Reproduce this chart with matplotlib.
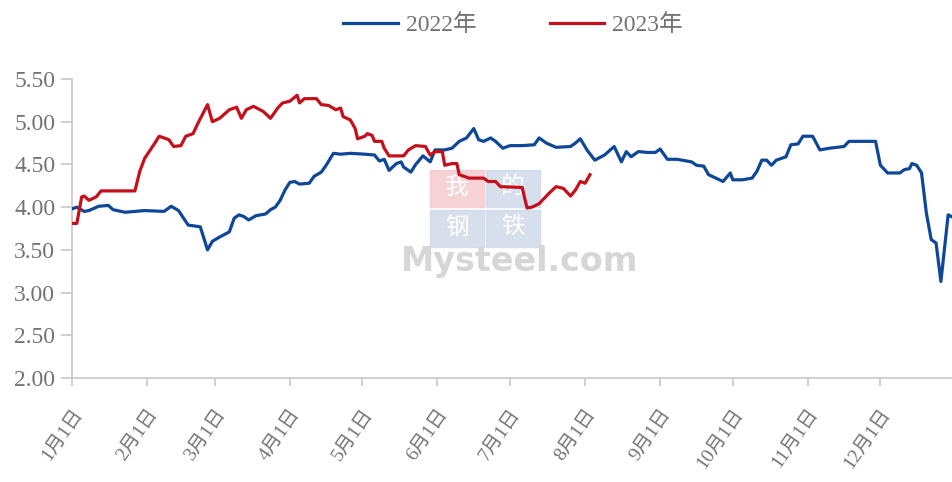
import pandas as pd
import matplotlib.pyplot as plt
import matplotlib.dates as mdates
from matplotlib.patches import Rectangle

# day of year offsets (from Jan 1) and values
days_2022 = [0, 2, 5, 7, 11, 15, 17, 22, 30, 38, 41, 44, 48, 53, 56, 58, 61, 65, 67, 69,
             71, 73, 76, 80, 82, 84, 86, 88, 90, 92, 94, 98, 100, 103, 105, 108, 111, 115,
             121, 125, 127, 129, 131, 134, 136, 137, 140, 142, 145, 148, 150, 154, 157, 160,
             163, 166, 168, 170, 173, 175, 178, 181, 186, 191, 193, 196, 200, 206, 208, 210,
             213, 216, 220, 224, 227, 229, 231, 234, 238, 241, 243, 246, 250, 256, 258, 261,
             263, 266, 269, 272, 273, 277, 281, 283, 285, 287, 289, 291, 295, 297, 300, 302,
             306, 309, 313, 319, 321, 332, 334, 337, 342, 344, 346, 347, 349, 351, 353, 355,
             357, 359, 362, 364]
vals_2022 = [3.98, 4.00, 3.95, 3.96, 4.01, 4.02, 3.97, 3.94, 3.96, 3.95, 4.01, 3.96, 3.79, 3.77,
             3.50, 3.60, 3.65, 3.71, 3.87, 3.91, 3.89, 3.85, 3.90, 3.92, 3.97, 4.00, 4.08, 4.20,
             4.29, 4.30, 4.27, 4.28, 4.36, 4.41, 4.49, 4.63, 4.62, 4.63, 4.62, 4.61, 4.54, 4.56,
             4.43, 4.51, 4.53, 4.47, 4.41, 4.50, 4.60, 4.53, 4.67, 4.67, 4.69, 4.77, 4.81, 4.92,
             4.79, 4.77, 4.81, 4.77, 4.69, 4.72, 4.72, 4.73, 4.81, 4.75, 4.70, 4.71, 4.75, 4.80,
             4.66, 4.55, 4.61, 4.71, 4.53, 4.65, 4.59, 4.65, 4.64, 4.64, 4.68, 4.56, 4.56, 4.53,
             4.49, 4.48, 4.38, 4.34, 4.30, 4.40, 4.32, 4.32, 4.34, 4.42, 4.55, 4.55, 4.49, 4.55,
             4.59, 4.73, 4.74, 4.83, 4.83, 4.67, 4.69, 4.71, 4.77, 4.77, 4.49, 4.40, 4.40, 4.44,
             4.45, 4.51, 4.49, 4.40, 3.93, 3.62, 3.58, 3.13, 3.91, 3.88]

days_2023 = [0, 2, 4, 5, 7, 10, 12, 26, 28, 30, 34, 36, 40, 42, 45, 47, 50, 52, 56, 58, 61,
             65, 68, 70, 72, 75, 79, 82, 85, 87, 90, 93, 94, 96, 101, 103, 106, 109, 111, 112,
             115, 117, 118, 121, 122, 124, 125, 128, 129, 131, 137, 139, 142, 146, 148, 150,
             153, 154, 157, 159, 160, 164, 170, 172, 175, 177, 186, 188, 190, 193, 195, 197,
             200, 203, 206, 208, 210, 212, 214]
vals_2023 = [3.81, 3.81, 4.12, 4.13, 4.08, 4.12, 4.19, 4.19, 4.42, 4.57, 4.74, 4.83, 4.79, 4.71,
             4.72, 4.83, 4.86, 4.98, 5.20, 5.00, 5.04, 5.14, 5.17, 5.04, 5.14, 5.18, 5.12, 5.04,
             5.16, 5.22, 5.24, 5.31, 5.22, 5.27, 5.27, 5.20, 5.19, 5.14, 5.16, 5.06, 5.02, 4.92,
             4.80, 4.83, 4.86, 4.84, 4.77, 4.77, 4.69, 4.60, 4.60, 4.67, 4.72, 4.71, 4.61, 4.65,
             4.65, 4.49, 4.51, 4.51, 4.38, 4.34, 4.34, 4.30, 4.30, 4.24, 4.23, 3.99, 4.00, 4.04,
             4.10, 4.16, 4.24, 4.22, 4.13, 4.20, 4.30, 4.28, 4.38]

series_labels = ['2022年', '2023年']
y_ticks = [2.00, 2.50, 3.00, 3.50, 4.00, 4.50, 5.00, 5.50]

base = pd.Timestamp('2022-01-01')
x22 = base + pd.to_timedelta(days_2022, unit='D')
x23 = base + pd.to_timedelta(days_2023, unit='D')

plt.rcParams['font.family'] = ['Liberation Serif', 'Noto Sans CJK SC', 'DejaVu Sans']

W, H = 953, 482
fig = plt.figure(figsize=(W / 100, H / 100), dpi=100)
ax = fig.add_axes([72 / W, 1 - 378 / H, 1 - 72 / W, (378 - 79) / H])

ax.plot(x22, vals_2022, color='#0f4798', lw=2.3, label=series_labels[0], zorder=3)
ax.plot(x23, vals_2023, color='#c5101c', lw=2.3, label=series_labels[1], zorder=3)

ax.set_ylim(2.0, 5.5)
ax.set_xlim(base, base + pd.Timedelta(days=364))
ax.set_yticks(y_ticks)
ax.set_yticklabels(['%.2f' % v for v in y_ticks])

ax.xaxis.set_major_locator(mdates.MonthLocator())
ax.xaxis.set_major_formatter(plt.FuncFormatter(
    lambda v, p: '%d月1日' % mdates.num2date(v).month))

for s in ['top', 'right']:
    ax.spines[s].set_visible(False)
for s in ['left', 'bottom']:
    ax.spines[s].set_color('#cccccc')
    ax.spines[s].set_linewidth(1.3)

ax.tick_params(axis='y', colors='#cccccc', labelcolor='#737373', labelsize=17,
               length=8, width=1.3, pad=4)
ax.tick_params(axis='x', colors='#cccccc', labelcolor='#737373', labelsize=14,
               length=6, width=1.3, pad=14)
for lab in ax.get_xticklabels():
    lab.set_rotation(55)
    lab.set_ha('right')
    lab.set_va('top')
    lab.set_rotation_mode('anchor')

# watermark
boxes = [(430, 170, '我', '#f5c7cb'), (486, 170, '的', '#cdd8e8'),
         (430, 210, '钢', '#cdd8e8'), (486, 210, '铁', '#cdd8e8')]
for bx, by, ch, col in boxes:
    ax.add_patch(Rectangle((bx / W, 1 - (by + 37) / H), 54 / W, 37 / H,
                           transform=fig.transFigure, color=col, alpha=0.8,
                           zorder=1, clip_on=False))
    ax.text((bx + 27) / W, 1 - (by + 17) / H, ch, transform=fig.transFigure,
            ha='center', va='center', fontsize=17, color='white',
            family=['Noto Sans CJK SC'], zorder=1.5)
ax.text(520 / W, 1 - 262 / H, 'Mysteel.com', transform=fig.transFigure,
        ha='center', va='center', fontsize=24, color='#d6d6d6',
        family=['DejaVu Sans'], fontweight='bold', zorder=1.5)

fig.legend(loc='center', bbox_to_anchor=(513 / W, 1 - 25 / H), ncol=2, frameon=False,
           fontsize=17, handlelength=2.3, handletextpad=0.35, columnspacing=3.1,
           labelcolor='#737373')

fig.savefig('out.png', dpi=100)
